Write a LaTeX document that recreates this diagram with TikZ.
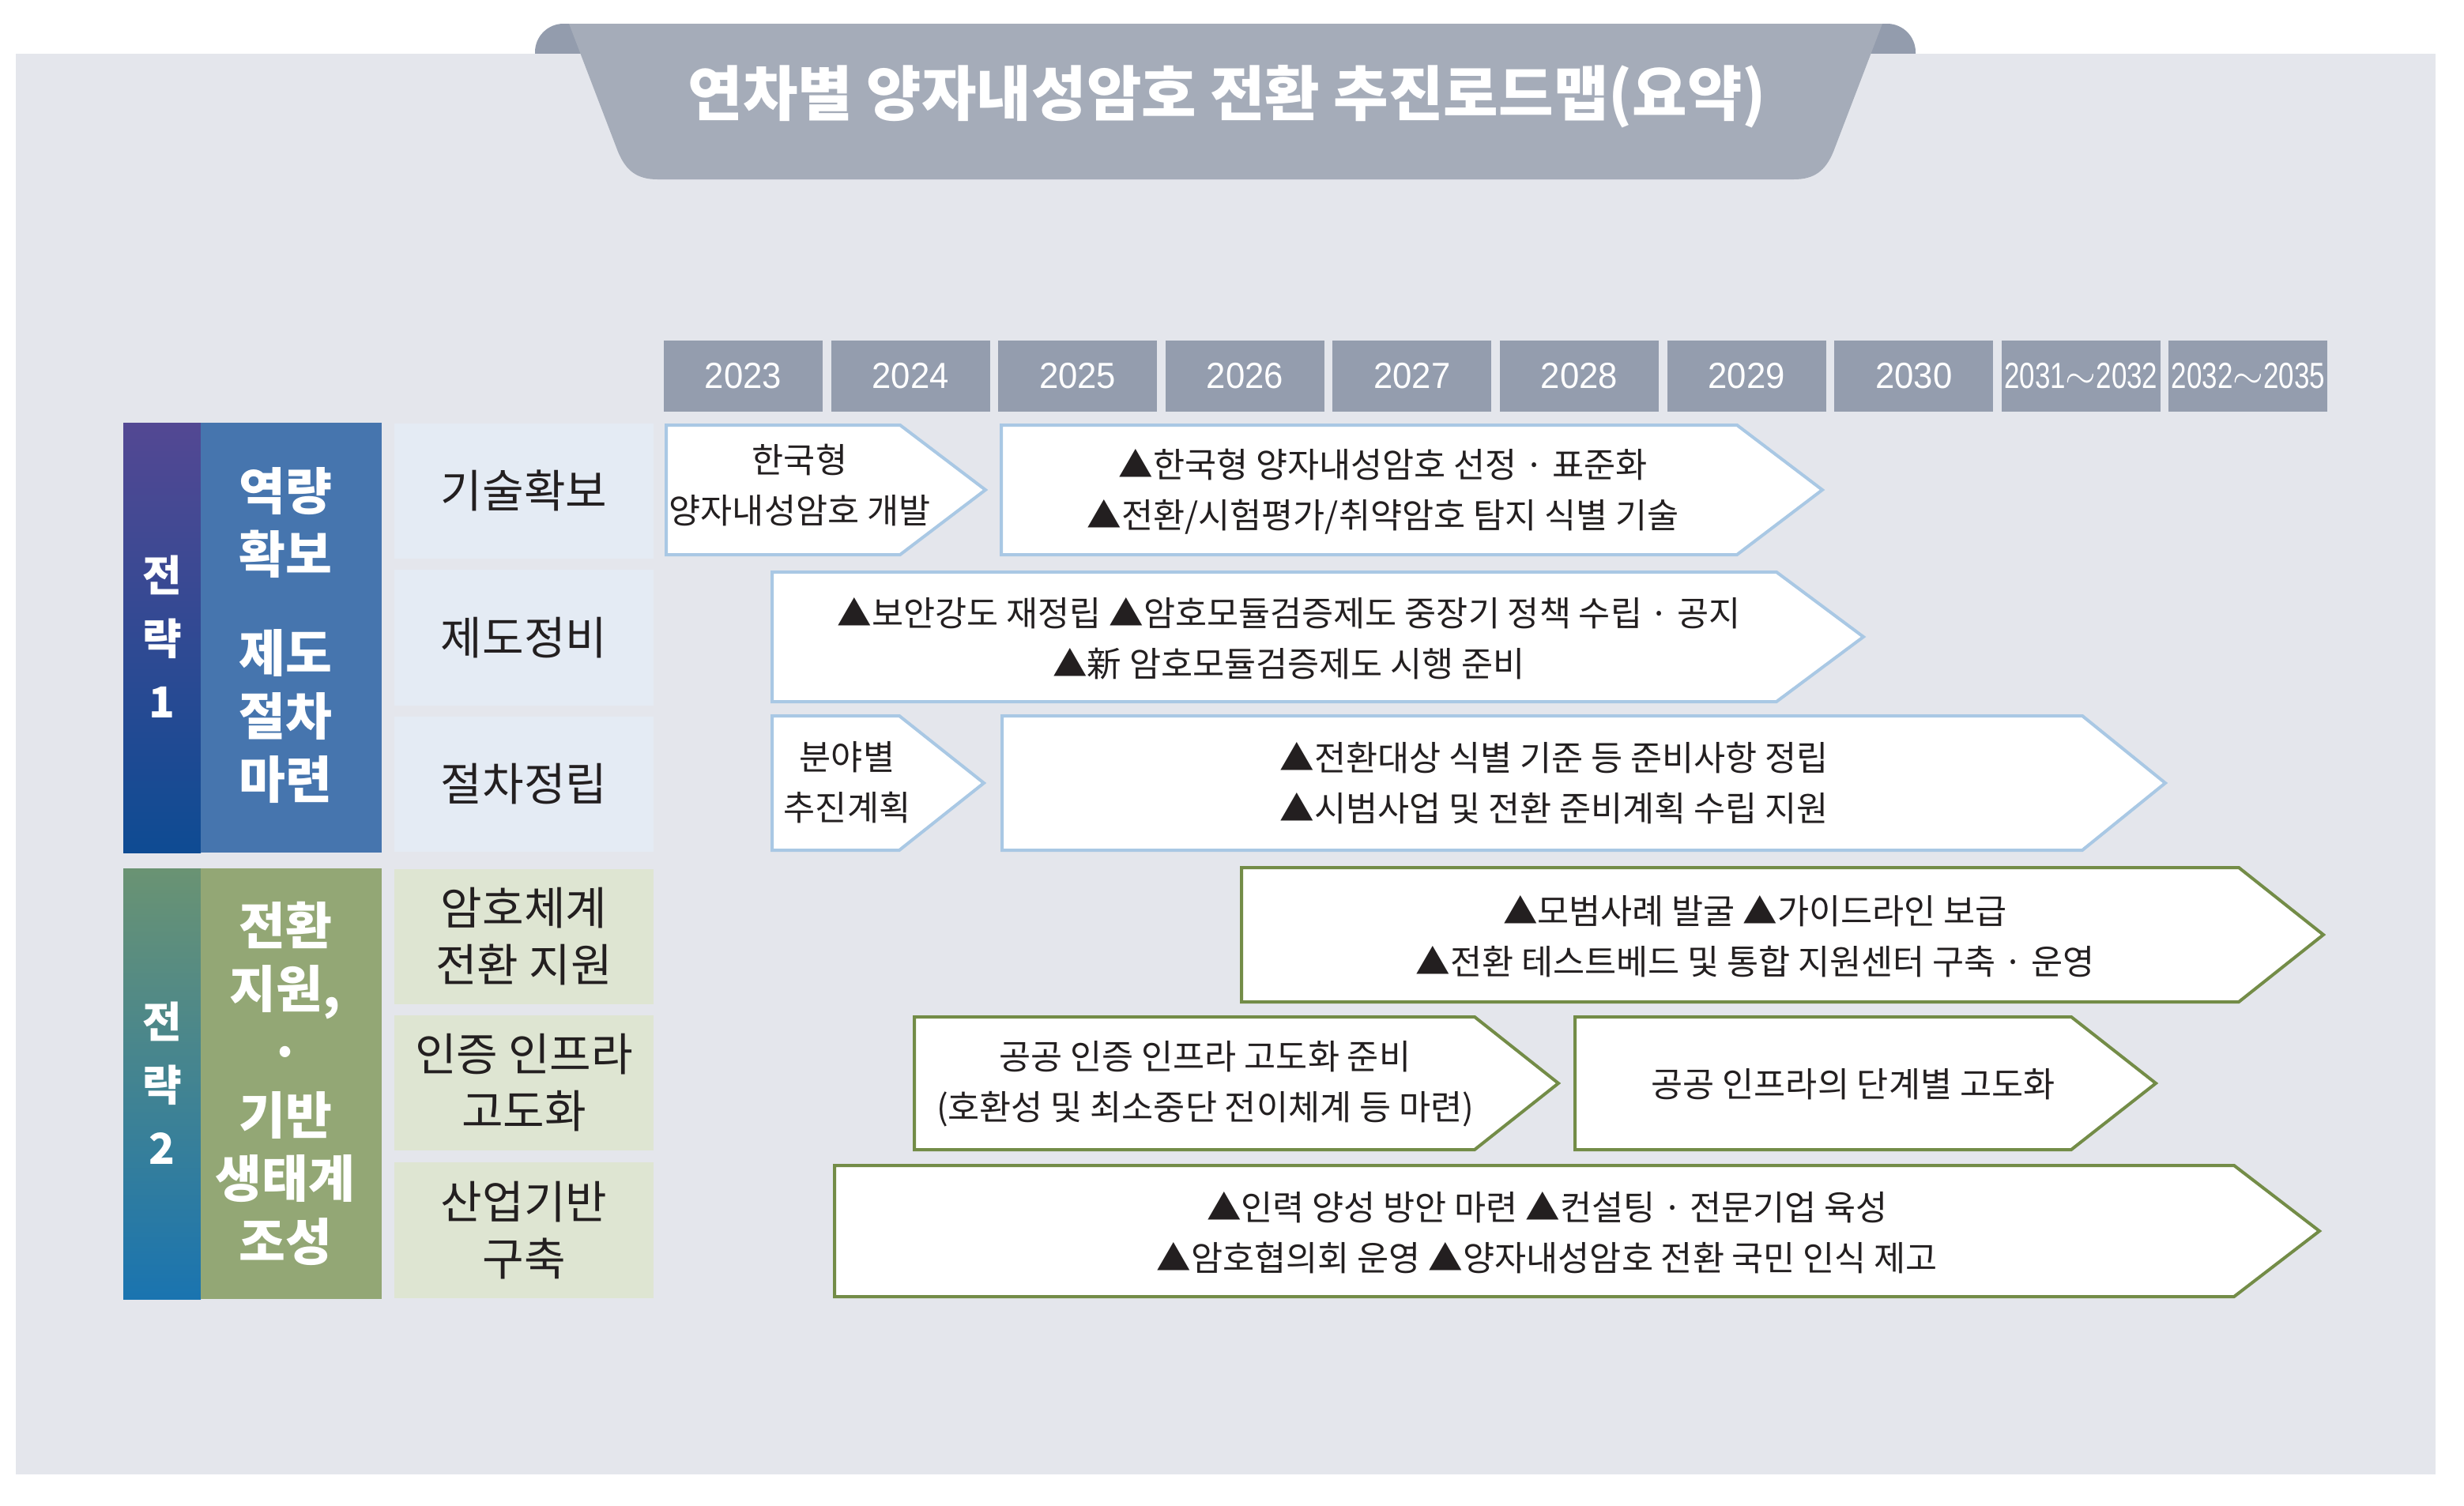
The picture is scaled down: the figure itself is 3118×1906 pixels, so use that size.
\documentclass[tikz,border=0pt]{standalone}
\usepackage{fontspec}
\newfontfamily\kr{Noto Sans CJK KR}
\newfontfamily\yr[FakeStretch=0.95]{Liberation Sans}
\newfontfamily\yrn[FakeStretch=0.76]{Liberation Sans}
\definecolor{bgc}{HTML}{E4E6EC}
\definecolor{tabl}{HTML}{A5ACB9}
\definecolor{tabd}{HTML}{939CAD}
\definecolor{yearc}{HTML}{949DAE}
\definecolor{sOnetop}{HTML}{534893}
\definecolor{sOnebot}{HTML}{0E4B93}
\definecolor{sTwotop}{HTML}{6A9373}
\definecolor{sTwobot}{HTML}{1A74B0}
\definecolor{colOne}{HTML}{4675AE}
\definecolor{colTwo}{HTML}{93A775}
\definecolor{lblOne}{HTML}{E4EBF4}
\definecolor{lblTwo}{HTML}{DEE5D2}
\definecolor{arrB}{HTML}{A9C8E4}
\definecolor{arrG}{HTML}{738C47}
\definecolor{txtd}{HTML}{231F20}
\tikzset{
  chevB/.style={draw=arrB, line width=2pt, fill=white, line join=miter},
  chevG/.style={draw=arrG, line width=2pt, fill=white, line join=miter},
  boxtxt/.style={font=\kr\fontsize{21.8}{32}\selectfont, text=txtd, align=center, inner sep=0pt},
  sidetxt/.style={font=\kr\fontsize{28.6}{36}\selectfont, text=txtd, align=center, inner sep=0pt},
  coltxt/.style={font=\kr\bfseries\fontsize{32}{40}\selectfont, text=white, align=center, inner sep=0pt},
  striptxt/.style={font=\kr\bfseries\fontsize{27}{40}\selectfont, text=white, align=center, inner sep=0pt},
  yeartxt/.style={font=\yr\fontsize{23}{26}\selectfont, text=white, inner sep=0pt},
  yeartxtn/.style={font=\yrn\fontsize{23}{26}\selectfont, text=white, inner sep=0pt},
}
\newcommand\chevron[6]{\draw[#1] (#2,#3) -- (#4,#3) -- (#5,{(#3+#6)/2}) -- (#4,#6) -- (#2,#6) -- cycle;}
\begin{document}
\begin{tikzpicture}[x=0.5pt,y=-0.5pt]
\useasboundingbox (0,0) rectangle (3118,1906);
% title tab ears
\fill[tabd, rounded corners=18pt] (677,30) rectangle (2424,120);
% background
\fill[bgc] (20,68) rectangle (3082,1866);
% title trapezoid
\fill[tabl] (720,30) -- (782,192) .. controls (792,216) and (806,227) .. (832,227)
  -- (2270,227) .. controls (2296,227) and (2310,216) .. (2320,192) -- (2382,30) -- cycle;
\node[font=\kr\bfseries\fontsize{37.8}{40}\selectfont, text=white, inner sep=0pt] (title) at (1553,122) {연차별 양자내성암호 전환 추진로드맵(요약)};
% years
\foreach \i/\y/\s in {0/2023/yeartxt,1/2024/yeartxt,2/2025/yeartxt,3/2026/yeartxt,4/2027/yeartxt,5/2028/yeartxt,6/2029/yeartxt,7/2030/yeartxt}{
  \fill[yearc] ({840+\i*211.6},431) rectangle ({1041+\i*211.6},521);
  \node[\s] (y\y) at ({940.5+\i*211.6},476) {\y};
}
\fill[yearc] ({840+8*211.6},431) rectangle ({1041+8*211.6},521);
\node[yeartxtn] (y3132) at ({940.5+8*211.6},476) {2031${\sim}$2032};
\fill[yearc] ({840+9*211.6},431) rectangle ({1041+9*211.6},521);
\node[yeartxtn] (y3235) at ({940.5+9*211.6},476) {2032${\sim}$2035};
% strategy 1
\shade[top color=sOnetop, bottom color=sOnebot] (156,535) rectangle (254,1079);
\fill[colOne] (254,535) rectangle (483,1079);
\node[striptxt] (s1) at (205,806) {전\\략\\1};
\node[coltxt] (c1a) at (361,662) {역량\\확보};
\node[coltxt] (c1b) at (361,907) {제도\\절차\\마련};
\fill[lblOne] (499,536) rectangle (827,707);
\fill[lblOne] (499,721) rectangle (827,893);
\fill[lblOne] (499,907) rectangle (827,1078);
\node[sidetxt] (l1) at (663,621) {기술확보};
\node[sidetxt] (l2) at (663,807) {제도정비};
\node[sidetxt] (l3) at (663,992) {절차정립};
% strategy 2
\shade[top color=sTwotop, bottom color=sTwobot] (156,1099) rectangle (254,1644);
\fill[colTwo] (254,1099) rectangle (483,1644);
\node[striptxt] (s2) at (205,1371) {전\\략\\2};
\node[coltxt] (c2) at (361,1371) {전환\\지원,\\·\\기반\\생태계\\조성};
\fill[lblTwo] (499,1100) rectangle (827,1271);
\fill[lblTwo] (499,1285) rectangle (827,1456);
\fill[lblTwo] (499,1471) rectangle (827,1643);
\node[sidetxt] (l4) at (663,1185) {암호체계\\전환 지원};
\node[sidetxt] (l5) at (663,1370) {인증 인프라\\고도화};
\node[sidetxt] (l6) at (663,1557) {산업기반\\구축};
% chevrons
\chevron{chevB}{843}{538}{1139}{1247}{702}
\node[boxtxt] (a) at (1012,614) {한국형\\양자내성암호 개발};
\chevron{chevB}{1267}{538}{2198}{2306}{702}
\node[boxtxt] (b) at (1750,622) {▲한국형 양자내성암호 선정 · 표준화\\▲전환/시험평가/취약암호 탐지 식별 기술};
\chevron{chevB}{977}{724}{2248}{2358}{888}
\node[boxtxt] (c) at (1631,808) {▲보안강도 재정립 ▲암호모듈검증제도 중장기 정책 수립 · 공지\\▲新 암호모듈검증제도 시행 준비};
\chevron{chevB}{977}{906}{1138}{1245}{1076}
\node[boxtxt] (d) at (1072,990) {분야별\\추진계획};
\chevron{chevB}{1268}{906}{2635}{2740}{1076}
\node[boxtxt] (e) at (1967,991) {▲전환대상 식별 기준 등 준비사항 정립\\▲시범사업 및 전환 준비계획 수립 지원};
\chevron{chevG}{1571}{1098}{2833}{2940}{1268}
\node[boxtxt] (f) at (2221,1185) {▲모범사례 발굴 ▲가이드라인 보급\\▲전환 테스트베드 및 통합 지원센터 구축 · 운영};
\chevron{chevG}{1157}{1287}{1866}{1972}{1455}
\node[boxtxt] (g) at (1525,1372) {공공 인증 인프라 고도화 준비\\(호환성 및 최소중단 전이체계 등 마련)};
\chevron{chevG}{1993}{1287}{2621}{2728}{1455}
\node[boxtxt] (h) at (2345,1372) {공공 인프라의 단계별 고도화};
\chevron{chevG}{1056}{1475}{2827}{2935}{1641}
\node[boxtxt] (i) at (1958,1560) {▲인력 양성 방안 마련 ▲컨설팅 · 전문기업 육성\\▲암호협의회 운영 ▲양자내성암호 전환 국민 인식 제고};
\end{tikzpicture}
\end{document}
